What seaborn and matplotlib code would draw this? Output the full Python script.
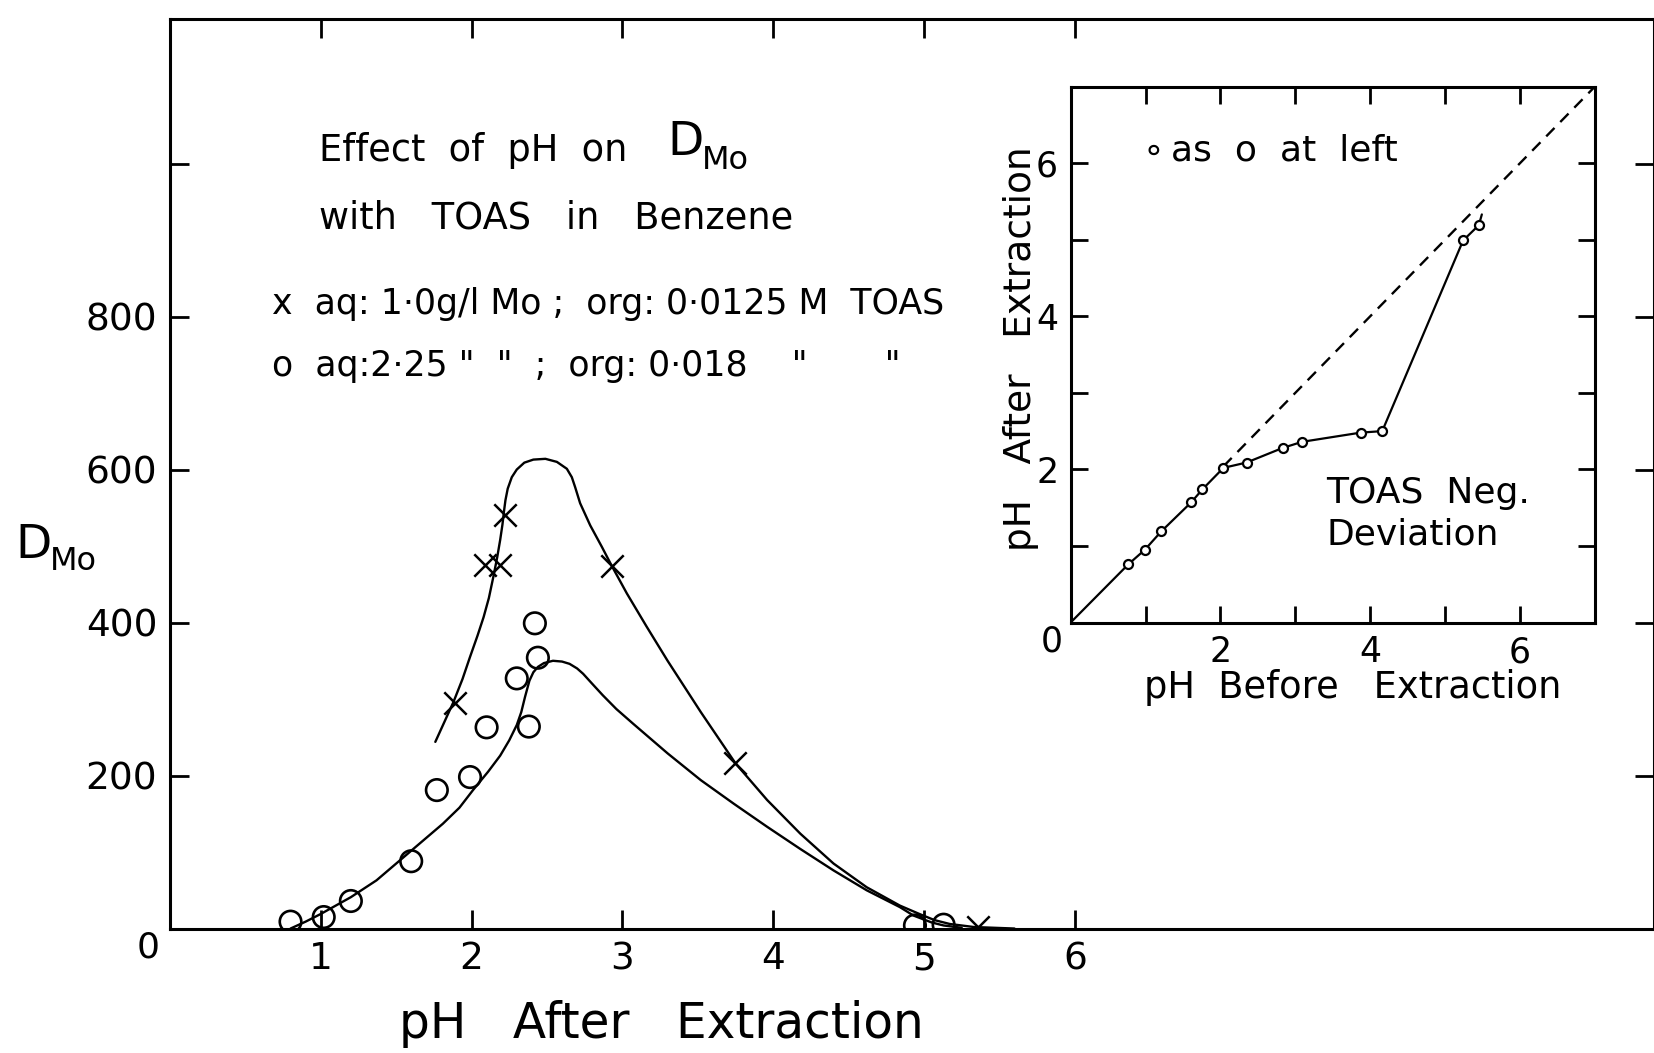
import numpy as np
import pandas as pd
import matplotlib
matplotlib.use("Agg")
import matplotlib.pyplot as plt
import seaborn as sns

# ---------------- data ----------------
# main panel: D_Mo vs pH after extraction
cross_ph = [1.89, 2.09, 2.19, 2.22, 2.93, 3.75, 5.36]
cross_d = [295, 475, 475, 540, 474, 216, 2]
circ_ph = [0.80, 1.02, 1.20, 1.60, 1.77, 1.99, 2.10, 2.30, 2.42, 2.38, 2.44, 4.94, 5.13]
circ_d = [9, 15, 36, 88, 181, 198, 263, 327, 399, 264, 354, 4, 5]

upper_ph = [1.76, 1.82, 1.88, 1.94, 1.99, 2.04, 2.08, 2.115, 2.145, 2.17, 2.19, 2.205,
            2.215, 2.225, 2.24, 2.267, 2.30, 2.35, 2.41, 2.49, 2.566, 2.632, 2.665, 2.687,
            2.72, 2.787, 2.864, 2.93, 3.03, 3.16, 3.30, 3.52, 3.75, 3.96, 4.18, 4.40,
            4.62, 4.84, 4.97, 5.07, 5.17, 5.33, 5.60]
upper_d = [244, 270, 296, 326, 355, 383, 407, 432, 460, 485, 508, 528,
           545, 560, 575, 590, 600, 609, 613, 614, 610, 601, 590, 577,
           556, 527, 499, 474, 438, 395, 350, 283, 216, 168, 124, 85,
           54, 30, 19, 11, 6, 2, 0]

lower_ph = [0.80, 0.90, 1.00, 1.10, 1.20, 1.37, 1.59, 1.81, 1.92, 2.01, 2.11, 2.19,
            2.25, 2.30, 2.33, 2.355, 2.384, 2.41, 2.44, 2.48, 2.54, 2.60, 2.65, 2.70,
            2.74, 2.80, 2.87, 2.96, 3.07, 3.30, 3.52, 3.74, 3.96, 4.18, 4.40, 4.62,
            4.84, 4.93, 5.05, 5.13, 5.25]
lower_d = [0, 9, 19, 30, 41, 63, 100, 137, 158, 181, 205, 226,
           246, 266, 283, 303, 324, 335, 342, 347, 350, 349, 346, 340,
           333, 320, 305, 287, 268, 229, 194, 163, 133, 104, 76, 50,
           28, 17, 8, 4, 1]

main_xticks = [1, 2, 3, 4, 5, 6]
main_yticks = [200, 400, 600, 800, 1000]
main_ylabels = ["200", "400", "600", "800", ""]

# inset: pH after vs pH before extraction
in_before = [0.77, 0.99, 1.21, 1.61, 1.76, 2.04, 2.35, 2.83, 3.09, 3.87, 4.16, 5.24, 5.45]
in_after = [0.76, 0.95, 1.19, 1.57, 1.74, 2.02, 2.09, 2.28, 2.36, 2.48, 2.50, 4.99, 5.19]
in_line_before = [0.0] + in_before + [5.49]
in_line_after = [0.0] + in_after + [5.33]
ideal_before = [2.04, 7.0]
ideal_after = [2.04, 7.0]
inset_ticks = [1, 2, 3, 4, 5, 6]
inset_labels = ["", "2", "", "4", "", "6"]

# ---------------- style ----------------
sns.set_style("ticks")
plt.rcParams["font.family"] = ["DejaVu Sans"]
plt.rcParams["mathtext.default"] = "regular"
plt.rcParams["text.color"] = "black"
plt.rcParams["axes.labelcolor"] = "black"
plt.rcParams["xtick.color"] = "black"
plt.rcParams["ytick.color"] = "black"
INK = "black"

fig = plt.figure(figsize=(16.54, 10.53), dpi=100)
fig.patch.set_facecolor("white")

# ---------------- main axes ----------------
ax = fig.add_axes([0.1027, 0.1182, 0.8973, 0.8638])
ax.set_facecolor("white")

sns.lineplot(x=upper_ph, y=upper_d, sort=False, estimator=None, color=INK, lw=1.7, ax=ax)
sns.lineplot(x=lower_ph, y=lower_d, sort=False, estimator=None, color=INK, lw=1.7, ax=ax)
sns.scatterplot(x=cross_ph, y=cross_d, marker="x", s=260, color=INK, linewidth=1.8, ax=ax, zorder=4)
sns.scatterplot(x=circ_ph, y=circ_d, marker="o", s=240, color=INK, edgecolor=INK,
                linewidth=1.9, ax=ax, zorder=4)
ax.collections[-1].set_facecolor("none")

ax.set_xlim(0, 9.84)
ax.set_ylim(0, 1189)
ax.set_xticks(main_xticks)
ax.set_xticklabels([str(t) for t in main_xticks])
ax.set_yticks(main_yticks)
ax.set_yticklabels(main_ylabels)
ax.tick_params(direction="in", length=14, width=2, labelsize=27, top=True, right=True,
               pad=9, colors=INK)
for sp in ax.spines.values():
    sp.set_linewidth(2.2)
    sp.set_color(INK)
ax.set_xlabel("")
ax.set_ylabel("")

# ---------------- inset ----------------
ins = fig.add_axes([0.6473, 0.4088, 0.3170, 0.509])
ins.set_facecolor("white")
sns.lineplot(x=ideal_before, y=ideal_after, sort=False, estimator=None, color=INK, lw=1.7,
             ax=ins, linestyle=(0, (5, 3.5)))
sns.lineplot(x=in_line_before, y=in_line_after, sort=False, estimator=None, color=INK, lw=1.6, ax=ins)
sns.scatterplot(x=in_before, y=in_after, marker="o", s=42, color="white", edgecolor=INK,
                linewidth=1.6, ax=ins, zorder=4)
ins.set_xlim(0, 7)
ins.set_ylim(0, 7)
ins.set_xticks(inset_ticks)
ins.set_xticklabels(inset_labels)
ins.set_yticks(inset_ticks)
ins.set_yticklabels(inset_labels)
ins.tick_params(direction="in", length=12, width=2, labelsize=25, top=True, right=True,
                pad=9, colors=INK)
for sp in ins.spines.values():
    sp.set_linewidth(2.2)
    sp.set_color(INK)
ins.set_xlabel("")
ins.set_ylabel("")

# ---------------- texts ----------------
fs = 26.5
fig.text(0.0893, 0.100, "0", fontsize=26, ha="center", va="center", color=INK)
fig.text(0.6358, 0.3908, "0", fontsize=25, ha="center", va="center", color=INK)

fig.text(0.193, 0.857, "Effect  of  pH  on", fontsize=fs, ha="left", va="center", color=INK)
fig.text(0.4033, 0.8647, "D", fontsize=34, ha="left", va="center", color=INK)
fig.text(0.4244, 0.848, "Mo", fontsize=23, ha="left", va="center", color=INK)
fig.text(0.193, 0.7926, "with   TOAS   in   Benzene", fontsize=fs, ha="left", va="center", color=INK)
fig.text(0.1645, 0.7114, "x  aq: 1·0g/l Mo ;  org: 0·0125 M  TOAS", fontsize=25, ha="left",
         va="center", color=INK)
fig.text(0.1645, 0.6523, "o  aq:2·25 \"  \"  ;  org: 0·018    \"       \"", fontsize=25, ha="left",
         va="center", color=INK)

fig.text(0.009, 0.482, "D", fontsize=34, ha="left", va="center", color=INK)
fig.text(0.0302, 0.4668, "Mo", fontsize=23, ha="left", va="center", color=INK)
fig.text(0.400, 0.028, "pH   After   Extraction", fontsize=35, ha="center", va="center", color=INK)

fig.text(0.617, 0.669, "pH   After   Extraction", fontsize=27, ha="center", va="center",
         rotation=90, color=INK)
fig.text(0.8176, 0.3467, "pH  Before   Extraction", fontsize=26.5, ha="center", va="center", color=INK)
fig.text(0.6905, 0.857, "\u2218", fontsize=25, ha="left", va="center", color=INK)
fig.text(0.708, 0.857, "as  o  at  left", fontsize=26, ha="left", va="center", color=INK)
fig.text(0.802, 0.532, "TOAS  Neg.", fontsize=26, ha="left", va="center", color=INK)
fig.text(0.802, 0.492, "Deviation", fontsize=26, ha="left", va="center", color=INK)

fig.savefig("out.png", dpi=100, facecolor="white")
